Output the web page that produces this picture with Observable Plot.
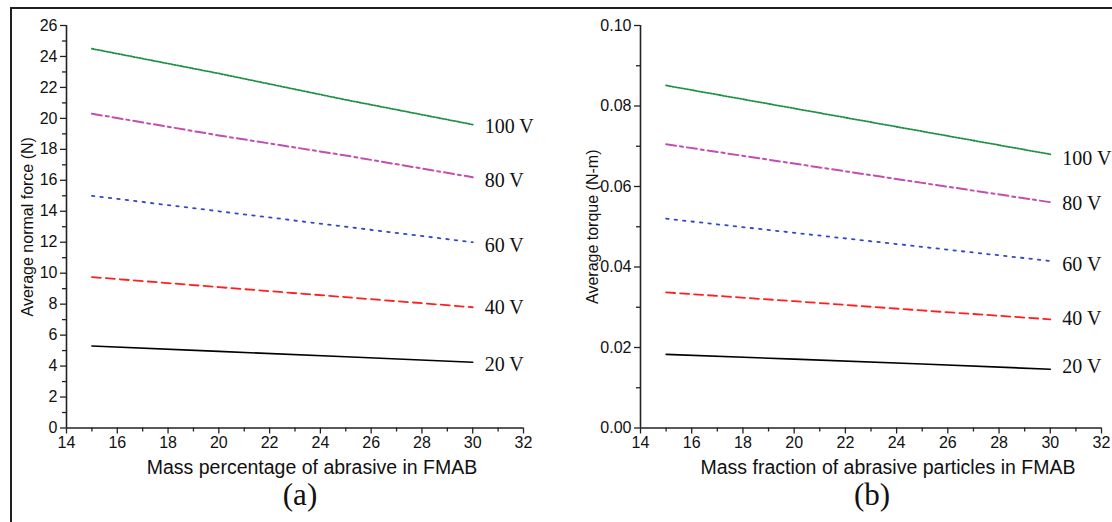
<!DOCTYPE html>
<html>
<head>
<meta charset="utf-8">
<script src="https://cdn.jsdelivr.net/npm/d3@7"></script>
<script src="https://cdn.jsdelivr.net/npm/@observablehq/plot@0.6"></script>
<style>
  html, body { margin: 0; padding: 0; background: #fff; }
  #wrap { position: relative; width: 1112px; height: 522px; overflow: hidden; background: #fff; }
  #frame { position: absolute; left: 10px; top: 7px; width: 1110px; height: 530px;
           border-top: 2px solid #231f20; border-left: 2.5px solid #231f20; }
  .panel { position: absolute; top: 0; }
  #pa { left: 0; }
  #pb { left: 556px; }
</style>
</head>
<body>
<div id="wrap">
  <div id="frame"></div>
  <div id="pa" class="panel"></div>
  <div id="pb" class="panel"></div>
</div>
<script>
// ---- data ----
const massPct = [15, 20, 25, 30];
const voltages = ["20 V", "40 V", "60 V", "80 V", "100 V"];

// (a) Average normal force (N)
const force20 = [5.3, 4.95, 4.6, 4.25];
const force40 = [9.75, 9.1, 8.45, 7.8];
const force60 = [15.0, 14.0, 13.0, 12.0];
const force80 = [20.3, 18.9, 17.6, 16.2];
const force100 = [24.5, 22.9, 21.2, 19.6];

// (b) Average torque (N-m)
const torque20 = [0.0183, 0.0171, 0.0159, 0.0146];
const torque40 = [0.0337, 0.0315, 0.0292, 0.0270];
const torque60 = [0.0520, 0.0485, 0.0450, 0.0415];
const torque80 = [0.0705, 0.0657, 0.0609, 0.0561];
const torque100 = [0.0851, 0.0794, 0.0737, 0.0680];

const xTicks = [14, 16, 18, 20, 22, 24, 26, 28, 30, 32];
const xMinorTicks = [15, 17, 19, 21, 23, 25, 27, 29, 31];
const forceTicks = [0, 2, 4, 6, 8, 10, 12, 14, 16, 18, 20, 22, 24, 26];
const forceMinorTicks = [1, 3, 5, 7, 9, 11, 13, 15, 17, 19, 21, 23, 25];
const torqueTicks = [0, 0.02, 0.04, 0.06, 0.08, 0.10];
const torqueMinorTicks = [0.01, 0.03, 0.05, 0.07, 0.09];

// ---- styles per series ----
const styles = {
  "20 V":  {stroke: "#000000", dash: null, width: 1.6},
  "40 V":  {stroke: "#ff1f1f", dash: "9,5", width: 1.8},
  "60 V":  {stroke: "#3348c4", dash: "2.5,6", width: 1.8},
  "80 V":  {stroke: "#c24db3", dash: "10,4,3,4", width: 2},
  "100 V": {stroke: "#1f9147", dash: "1.5,1.5", width: 1.8}
};

function toRows(seriesArrays) {
  const rows = [];
  voltages.forEach((v, i) => {
    massPct.forEach((m, j) => rows.push({v, x: m, y: seriesArrays[i][j]}));
  });
  return rows;
}

const sans = "Arial, 'Liberation Sans', Helvetica, sans-serif";
const serif = "'Times New Roman', 'Liberation Serif', Times, serif";

function panel({rows, yDomain, yTicks, yMinor, yFormat, yTitle, xTitle, caption,
                marginLeft, marginRight, titleDx, xTitleDx, capDx, labelDy}) {
  const marks = [];
  voltages.forEach((v) => {
    const st = styles[v];
    marks.push(Plot.line(rows.filter(d => d.v === v), {
      x: "x", y: "y", stroke: st.stroke, strokeWidth: st.width,
      strokeDasharray: st.dash || undefined
    }));
  });
  const ends = voltages.map((v, i) => {
    const r = rows.filter(d => d.v === v);
    return {...r[r.length - 1], label: v, dy: labelDy[i]};
  });
  ends.forEach(e => {
    marks.push(Plot.text([e], {
      x: "x", y: "y", text: "label", dx: 12, dy: e.dy,
      textAnchor: "start", lineAnchor: "middle",
      fontFamily: serif, fontSize: 20, fill: "#111"
    }));
  });
  marks.push(Plot.axisX({ticks: xTicks, tickSize: 6, tickPadding: 3, tickFormat: d => String(d),
    fontSize: 16, stroke: "#222", strokeWidth: 1.3, label: null, fill: "#111"}));
  marks.push(Plot.axisX({ticks: xMinorTicks, tickSize: 4, tickFormat: null, text: null,
    stroke: "#222", strokeWidth: 1.3, label: null}));
  marks.push(Plot.axisY({ticks: yTicks, tickSize: 6, tickPadding: 3, tickFormat: yFormat,
    fontSize: 16, stroke: "#222", strokeWidth: 1.3, label: null, fill: "#111"}));
  marks.push(Plot.axisY({ticks: yMinor, tickSize: 4, tickFormat: null, text: null,
    stroke: "#222", strokeWidth: 1.3, label: null}));
  marks.push(Plot.ruleX([xTicks[0]], {stroke: "#222", strokeWidth: 1.6}));
  marks.push(Plot.ruleY([yDomain[0]], {stroke: "#222", strokeWidth: 1.6}));
  marks.push(Plot.text([yTitle], {frameAnchor: "left", dx: titleDx, rotate: -90,
    textAnchor: "middle", fontFamily: sans, fontSize: 16, fill: "#111", lineAnchor: "middle"}));
  marks.push(Plot.text([xTitle], {frameAnchor: "bottom", dx: xTitleDx, dy: 40, textAnchor: "middle",
    fontFamily: sans, fontSize: 19.5, fill: "#111", lineAnchor: "middle"}));
  marks.push(Plot.text([caption], {frameAnchor: "bottom", dx: capDx, dy: 67, textAnchor: "middle",
    fontFamily: serif, fontSize: 31, fill: "#111", lineAnchor: "middle"}));

  return Plot.plot({
    width: 556, height: 522,
    marginLeft, marginRight, marginTop: 25, marginBottom: 94.5,
    style: {background: "transparent", overflow: "visible", fontSize: "16px", fontFamily: sans, color: "#111"},
    x: {domain: [14, 32], axis: null},
    y: {domain: yDomain, axis: null},
    marks
  });
}

const pa = panel({
  rows: toRows([force20, force40, force60, force80, force100]),
  yDomain: [0, 26], yTicks: forceTicks, yMinor: forceMinorTicks,
  yFormat: d => String(d),
  yTitle: "Average normal force (N)",
  xTitle: "Mass percentage of abrasive in FMAB",
  caption: "(a)",
  marginLeft: 66, marginRight: 33, titleDx: -39, xTitleDx: 17, capDx: 5,
  labelDy: [2, 0, 3, 3, 2]
});
document.getElementById("pa").appendChild(pa);

const pb = panel({
  rows: toRows([torque20, torque40, torque60, torque80, torque100]),
  yDomain: [0, 0.1], yTicks: torqueTicks, yMinor: torqueMinorTicks,
  yFormat: d3.format(".2f"),
  yTitle: "Average torque (N-m)",
  xTitle: "Mass fraction of abrasive particles in FMAB",
  caption: "(b)",
  marginLeft: 84, marginRight: 11, titleDx: -48, xTitleDx: 17, capDx: 1,
  labelDy: [-3, -1, 4, 1, 4]
});
document.getElementById("pb").appendChild(pb);
</script>
</body>
</html>
